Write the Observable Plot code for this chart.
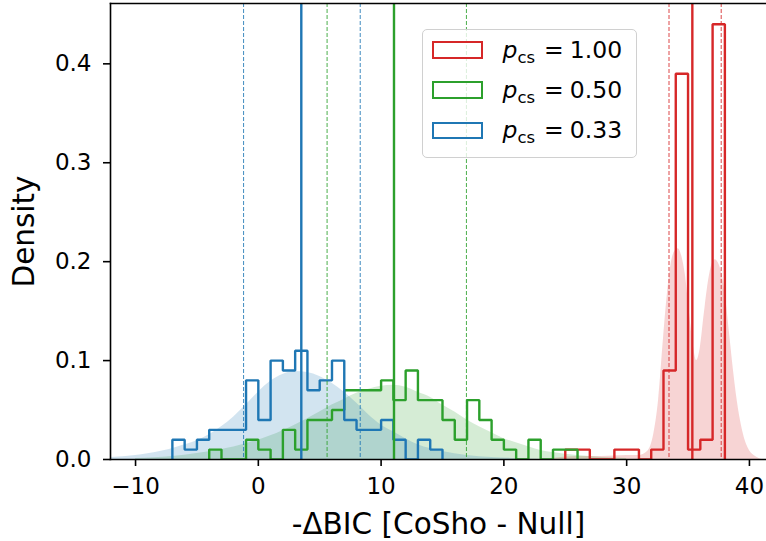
<!DOCTYPE html>
<html><head><meta charset="utf-8">
<script src="https://cdn.jsdelivr.net/npm/d3@7"></script>
<script src="https://cdn.jsdelivr.net/npm/@observablehq/plot@0.6"></script>
<style>
body{margin:0;background:#fff;}
#wrap{position:relative;width:766px;height:541px;font-family:"DejaVu Sans",sans-serif;color:#000;}
</style></head><body><div id="wrap"></div>
<script>
// ---- data ----
const seriesLabels = ["1.00", "0.50", "0.33"];
const seriesColors = ["#d62728", "#2ca02c", "#1f77b4"];
const xTicks = [-10, 0, 10, 20, 30, 40];
const yTicks = [0, 0.1, 0.2, 0.3, 0.4];
const xDomain = [-12.04, 41.39];
const yDomain = [0, 0.461];

// histogram bins (width 1) : first edge and densities
const histStart = [25, -4, -7];
const redDensity = [0.01,0.01,0,0,0.01,0.01,0,0.01,0.09,0.39,0.01,0.02,0.44];
const greenDensity = [0.01,0,0,0.02,0.01,0,0.03,0.01,0.04,0.04,0.05,0.07,0.07,0.07,0.08,0.06,0.09,0.06,0.06,0.04,0.02,0.06,0.04,0.02,0.01,0,0.02,0,0.01,0.01];
const blueDensity = [0.02,0.01,0.02,0.03,0.03,0.03,0.08,0.04,0.10,0.09,0.11,0.07,0.08,0.10,0.04,0.03,0.03,0.04,0.02,0,0.02,0.01];

// KDE curves
const redKdeX = [24,26,28,30,31,31.7,32.2,32.6,33,33.3,33.6,33.9,34.2,34.5,34.8,35.1,35.4,35.7,36,36.3,36.6,36.9,37.2,37.5,37.8,38.1,38.4,38.7,39,39.5,40,40.5,41];
const redKdeY = [0.001,0.003,0.003,0.004,0.004,0.008,0.025,0.06,0.122,0.165,0.196,0.21,0.213,0.205,0.185,0.15,0.118,0.1,0.113,0.145,0.175,0.195,0.202,0.198,0.185,0.16,0.125,0.09,0.06,0.026,0.009,0.003,0];
const greenKdeX = [-10,-7,-5,-3,-1,1,3,5,6,7,8,9,10,11,12,13,14,15,16,17,18,19,20,21,22,23,24,26,28,30];
const greenKdeY = [0.001,0.003,0.006,0.01,0.016,0.024,0.035,0.048,0.055,0.061,0.067,0.071,0.074,0.075,0.073,0.068,0.063,0.055,0.048,0.04,0.033,0.027,0.021,0.017,0.013,0.009,0.007,0.004,0.002,0.001];
const blueKdeX = [-12,-10,-8,-6.5,-5,-4,-3,-2,-1,0,1,2,3,4,5,6,7,8,9,10,11,12,13,14,15,17,19,21,23];
const blueKdeY = [0.002,0.004,0.008,0.013,0.019,0.025,0.033,0.043,0.055,0.068,0.079,0.086,0.089,0.088,0.084,0.077,0.068,0.057,0.045,0.035,0.028,0.021,0.015,0.011,0.008,0.004,0.002,0.001,0];

// medians (solid) and percentile bounds (dashed)
const medians = [35.35, 11.05, 3.5];
const lowerBounds = [33.45, 5.6, -1.2];
const upperBounds = [37.7, 16.95, 8.3];

const xLabel = "-ΔBIC [CoSho - Null]";
const yLabel = "Density";

// ---- build tables ----
const densities = [redDensity, greenDensity, blueDensity];
const kdeXs = [redKdeX, greenKdeX, blueKdeX];
const kdeYs = [redKdeY, greenKdeY, blueKdeY];

const steps = [];
densities.forEach((d, s) => {
  const e0 = histStart[s];
  steps.push({s, x: e0, y: 0});
  d.forEach((v, i) => steps.push({s, x: e0 + i, y: v}));
  steps.push({s, x: e0 + d.length, y: 0});
});
const kde = [];
kdeXs.forEach((xs, s) => xs.forEach((x, i) => kde.push({s, x, y: kdeYs[s][i]})));
const solid = medians.map((x, s) => ({s, x}));
const dashed = [...lowerBounds.map((x, s) => ({s, x})), ...upperBounds.map((x, s) => ({s, x}))];
const col = d => seriesColors[d.s];

const plot = Plot.plot({
  width: 766, height: 541,
  marginLeft: 110, marginRight: 0, marginTop: 3, marginBottom: 82,
  x: {domain: xDomain},
  y: {domain: yDomain},
  style: {fontFamily: "DejaVu Sans", background: "white", color: "black", overflow: "visible"},
  marks: [
    Plot.areaY(kde, {x: "x", y1: 0, y2: "y", z: "s", fill: col, fillOpacity: 0.2, curve: "monotone-x", clip: true}),
    Plot.line(steps, {x: "x", y: "y", z: "s", stroke: col, strokeWidth: 2.4, curve: "step-after", strokeLinejoin: "miter", clip: true}),
    Plot.ruleX(dashed, {x: "x", stroke: col, strokeWidth: 1, strokeDasharray: "4,2", strokeOpacity: 0.85}),
    Plot.ruleX(solid, {x: "x", stroke: col, strokeWidth: 2.4}),
    Plot.frame({anchor: "top", strokeWidth: 1.6}),
    Plot.frame({anchor: "left", strokeWidth: 1.6}),
    Plot.frame({anchor: "bottom", strokeWidth: 1.6}),
    Plot.axisX({ticks: xTicks, tickSize: 7, tickPadding: 11, fontSize: 23, strokeWidth: 1.6,
      tickFormat: d => (d < 0 ? "\u2212" + Math.abs(d) : String(d)), label: null}),
    Plot.axisY({ticks: yTicks, tickSize: 7, tickPadding: 12, fontSize: 23, strokeWidth: 1.6,
      tickFormat: d3.format(".1f"), label: null}),
    Plot.text([xLabel], {text: d => d, frameAnchor: "bottom", dy: 65, fontSize: 29.5, lineAnchor: "middle", textAnchor: "middle"}),
    Plot.text([yLabel], {text: d => d, frameAnchor: "left", dx: -86, rotate: -90, fontSize: 29.5, lineAnchor: "middle", textAnchor: "middle"})
  ]
});

const wrap = document.getElementById("wrap");
wrap.appendChild(plot);

// ---- legend ----
const legend = document.createElement("div");
legend.style.cssText = "position:absolute;left:422px;top:29px;width:215px;height:129px;box-sizing:border-box;border:1.5px solid #d0d0d0;border-radius:5px;background:rgba(255,255,255,0.8);";
seriesLabels.forEach((v, i) => {
  const row = document.createElement("div");
  row.style.cssText = `position:absolute;left:0;top:${6.5 + i * 40.3}px;height:27px;width:100%;`;
  const patch = document.createElement("div");
  patch.style.cssText = `position:absolute;left:8.5px;top:4.5px;width:51.5px;height:17.5px;box-sizing:border-box;border:2.5px solid ${seriesColors[i]};background:transparent;`;
  const txt = document.createElement("div");
  txt.style.cssText = "position:absolute;left:79.5px;top:0;line-height:27px;font-size:23.5px;white-space:nowrap;font-family:'DejaVu Sans';";
  txt.innerHTML = `<span style="font-style:italic">p</span><span style="font-size:16.5px;position:relative;top:5px">cs</span><span style="margin-left:9px">=</span><span style="margin-left:6px">${v}</span>`;
  row.appendChild(patch);
  row.appendChild(txt);
  legend.appendChild(row);
});
wrap.appendChild(legend);
</script>
</body></html>
